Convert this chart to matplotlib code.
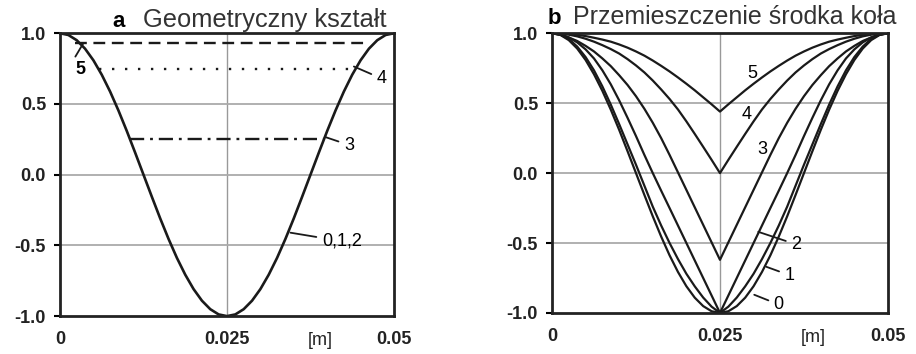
import matplotlib.pyplot as plt

plt.rcParams['font.family'] = ['Liberation Sans', 'DejaVu Sans']

# x positions [m] at which the curves were read (step 1.25 mm)
x = [0.0, 0.00125, 0.0025, 0.00375, 0.005, 0.00625, 0.0075, 0.00875, 0.01, 0.01125,
     0.0125, 0.01375, 0.015, 0.01625, 0.0175, 0.01875, 0.02, 0.02125, 0.0225, 0.02375,
     0.025, 0.02625, 0.0275, 0.02875, 0.03, 0.03125, 0.0325, 0.03375, 0.035, 0.03625,
     0.0375, 0.03875, 0.04, 0.04125, 0.0425, 0.04375, 0.045, 0.04625, 0.0475, 0.04875,
     0.05]

# a - geometric shape (curves 0,1,2)
shape = [1.0, 0.988, 0.951, 0.891, 0.809, 0.707, 0.588, 0.454, 0.309, 0.156,
         0.0, -0.156, -0.309, -0.454, -0.588, -0.707, -0.809, -0.891, -0.951, -0.988,
         -1.0, -0.988, -0.951, -0.891, -0.809, -0.707, -0.588, -0.454, -0.309, -0.156,
         0.0, 0.156, 0.309, 0.454, 0.588, 0.707, 0.809, 0.891, 0.951, 0.988, 1.0]
# truncation levels 5, 4, 3 and their x extent
cut_names = ['5', '4', '3']
cut_level = [0.93, 0.75, 0.25]
cut_x0 = [0.0023, 0.0058, 0.0105]
cut_x1 = [0.0462, 0.0442, 0.0395]
cut_style = [(0, (5, 2.8)), (0, (1, 4.5)), (0, (6, 2.5, 1.2, 2.5))]

# b - displacement of wheel centre, curves 0..5
disp_names = ['0', '1', '2', '3', '4', '5']
disp0 = shape
disp1 = [1.0, 0.99, 0.96, 0.905, 0.83, 0.735, 0.62, 0.49, 0.35, 0.205,
         0.06, -0.09, -0.24, -0.375, -0.50, -0.615, -0.72, -0.81, -0.89, -0.955,
         -1.0, -0.955, -0.89, -0.81, -0.72, -0.615, -0.50, -0.375, -0.24, -0.09,
         0.06, 0.205, 0.35, 0.49, 0.62, 0.735, 0.83, 0.905, 0.96, 0.99, 1.0]
disp2 = [1.0, 0.992, 0.97, 0.935, 0.885, 0.82, 0.735, 0.635, 0.52, 0.395,
         0.265, 0.13, 0.0, -0.126, -0.25, -0.375, -0.50, -0.625, -0.75, -0.875,
         -1.0, -0.875, -0.75, -0.625, -0.50, -0.375, -0.25, -0.126, 0.0, 0.13,
         0.265, 0.395, 0.52, 0.635, 0.735, 0.82, 0.885, 0.935, 0.97, 0.992, 1.0]
disp3 = [1.0, 0.99, 0.97, 0.945, 0.91, 0.87, 0.82, 0.765, 0.70, 0.63,
         0.55, 0.46, 0.36, 0.25, 0.13, 0.005, -0.12, -0.245, -0.37, -0.495,
         -0.62, -0.495, -0.37, -0.245, -0.12, 0.005, 0.13, 0.25, 0.36, 0.46,
         0.55, 0.63, 0.70, 0.765, 0.82, 0.87, 0.91, 0.945, 0.97, 0.99, 1.0]
disp4 = [1.0, 0.997, 0.99, 0.978, 0.961, 0.94, 0.915, 0.887, 0.855, 0.815,
         0.77, 0.72, 0.662, 0.598, 0.53, 0.455, 0.37, 0.28, 0.188, 0.095,
         0.0, 0.095, 0.188, 0.28, 0.37, 0.455, 0.53, 0.598, 0.662, 0.72,
         0.77, 0.815, 0.855, 0.887, 0.915, 0.94, 0.961, 0.978, 0.99, 0.997, 1.0]
disp5 = [1.0, 0.999, 0.995, 0.989, 0.98, 0.968, 0.955, 0.94, 0.92, 0.897,
         0.87, 0.84, 0.805, 0.767, 0.727, 0.684, 0.639, 0.592, 0.542, 0.492,
         0.44, 0.492, 0.542, 0.592, 0.639, 0.684, 0.727, 0.767, 0.805, 0.84,
         0.87, 0.897, 0.92, 0.94, 0.955, 0.968, 0.98, 0.989, 0.995, 0.999, 1.0]
disp = [disp0, disp1, disp2, disp3, disp4, disp5]

xticks = [0, 0.025, 0.05]
xticklabels = ['0', '0.025', '0.05']
yticks = [-1.0, -0.5, 0.0, 0.5, 1.0]

ink = '#1a1a1a'
fig = plt.figure(figsize=(9.16, 3.54), dpi=100)
ax_a = fig.add_axes([0.0655, 0.107, 0.3646, 0.799])
ax_b = fig.add_axes([0.6026, 0.116, 0.3668, 0.790])

for ax in (ax_a, ax_b):
    ax.set_xlim(0, 0.05)
    ax.set_ylim(-1, 1)
    ax.set_xticks(xticks)
    ax.set_xticklabels(xticklabels)
    ax.set_yticks(yticks)
    ax.set_yticklabels(['%.1f' % v for v in yticks])
    ax.tick_params(axis='x', length=0, pad=11, labelsize=13)
    ax.tick_params(axis='y', length=4, width=1.5, pad=6, labelsize=13)
    for lab in ax.get_xticklabels() + ax.get_yticklabels():
        lab.set_fontweight('bold')
        lab.set_color('#222222')
    for sp in ax.spines.values():
        sp.set_linewidth(2)
        sp.set_color('#222222')
    ax.axvline(0.025, color='#999999', lw=1, zorder=0)
    for yy in [-0.5, 0.0, 0.5]:
        ax.axhline(yy, color='#aaaaaa', lw=1.3, zorder=0)
    ax.text(0.0389, -1.115, '[m]', ha='center', va='top', fontsize=13,
            color='#222222')

# panel a
ax_a.plot(x, shape, color=ink, lw=1.9)
for lvl, x0, x1, ls in zip(cut_level, cut_x0, cut_x1, cut_style):
    ax_a.plot([x0, x1], [lvl, lvl], color=ink, lw=1.7, linestyle=ls)

# label 5 with its small leader up to the dashed line
ax_a.annotate('', xy=(0.0035, 0.93), xytext=(0.0023, 0.835),
              arrowprops=dict(arrowstyle='-', lw=1.3, color=ink,
                              shrinkA=0, shrinkB=0))
ax_a.text(0.0030, 0.745, cut_names[0], fontsize=13, fontweight='bold',
          ha='center', va='center')
ax_a.annotate(cut_names[1], xy=(0.0440, 0.765), xytext=(0.0474, 0.68),
              fontsize=13, ha='left', va='center',
              arrowprops=dict(arrowstyle='-', lw=1.3, color=ink,
                              shrinkA=2, shrinkB=0))
ax_a.annotate(cut_names[2], xy=(0.0398, 0.265), xytext=(0.0425, 0.21),
              fontsize=13, ha='left', va='center',
              arrowprops=dict(arrowstyle='-', lw=1.3, color=ink,
                              shrinkA=2, shrinkB=0))
ax_a.annotate('0,1,2', xy=(0.0345, -0.41), xytext=(0.0392, -0.47),
              fontsize=13, ha='left', va='center',
              arrowprops=dict(arrowstyle='-', lw=1.3, color=ink,
                              shrinkA=2, shrinkB=0))

ax_a.text(0.0078, 1.045, 'a', fontsize=16, fontweight='bold', ha='left',
          va='baseline')
ax_a.text(0.0124, 1.045, 'Geometryczny kształt', fontsize=18.4, ha='left',
          va='baseline', color='#333333')

# panel b
for ys in disp:
    ax_b.plot(x, ys, color=ink, lw=1.6)

ax_b.text(0.0298, 0.71, disp_names[5], fontsize=13, ha='center', va='center')
ax_b.text(0.0290, 0.42, disp_names[4], fontsize=13, ha='center', va='center')
ax_b.text(0.0313, 0.17, disp_names[3], fontsize=13, ha='center', va='center')
ax_b.annotate(disp_names[2], xy=(0.0307, -0.42), xytext=(0.0356, -0.51),
              fontsize=13, ha='left', va='center',
              arrowprops=dict(arrowstyle='-', lw=1.3, color=ink,
                              shrinkA=2, shrinkB=0))
ax_b.annotate(disp_names[1], xy=(0.0319, -0.67), xytext=(0.0346, -0.73),
              fontsize=13, ha='left', va='center',
              arrowprops=dict(arrowstyle='-', lw=1.3, color=ink,
                              shrinkA=2, shrinkB=0))
ax_b.annotate(disp_names[0], xy=(0.0301, -0.87), xytext=(0.0330, -0.94),
              fontsize=13, ha='left', va='center',
              arrowprops=dict(arrowstyle='-', lw=1.3, color=ink,
                              shrinkA=2, shrinkB=0))

ax_b.text(-0.0007, 1.065, 'b', fontsize=16, fontweight='bold', ha='left',
          va='baseline')
ax_b.text(0.0031, 1.065, 'Przemieszczenie środka koła', fontsize=18,
          ha='left', va='baseline', color='#333333')

fig.savefig('out.png', dpi=100)
